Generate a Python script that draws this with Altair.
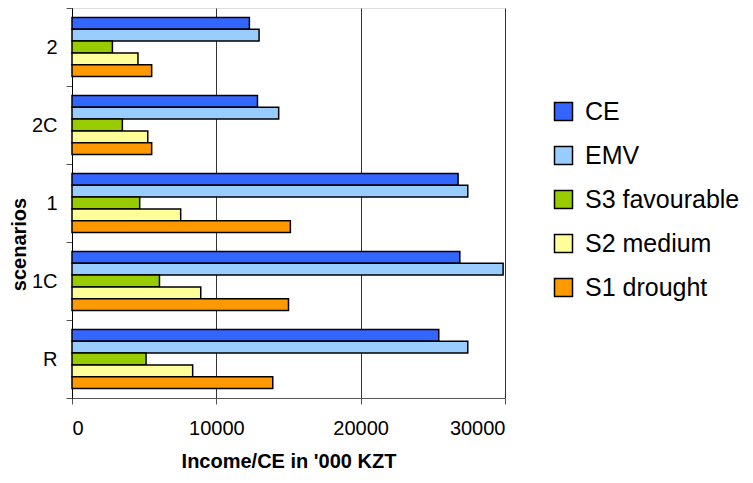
import altair as alt
import pandas as pd

scenarios = ["2", "2C", "1", "1C", "R"]
series = ["CE", "EMV", "S3 favourable", "S2 medium", "S1 drought"]
colors = ["#3366FF", "#99CCFF", "#99CC00", "#FFFF99", "#FF9900"]

ce = [12290, 12850, 26750, 26870, 25410]
emv = [12960, 14320, 27420, 29870, 27420]
s3_favourable = [2800, 3490, 4690, 6060, 5130]
s2_medium = [4570, 5250, 7530, 8920, 8360]
s1_drought = [5520, 5520, 15130, 15000, 13910]

x_ticks = [0, 10000, 20000, 30000]

rows = []
for name, vals in zip(series, [ce, emv, s3_favourable, s2_medium, s1_drought]):
    for sc, v in zip(scenarios, vals):
        rows.append({"scenario": sc, "series": name, "value": v})
df = pd.DataFrame(rows)

FONT = "Liberation Sans"

chart = alt.Chart(df).mark_bar(stroke="black", strokeWidth=1.5).encode(
    y=alt.Y("scenario:N", sort=scenarios,
            scale=alt.Scale(paddingInner=0, paddingOuter=0),
            axis=alt.Axis(title="scenarios", tickBand="extent", tickSize=6,
                          labelPadding=9, labelFontSize=20, labelColor="black",
                          labelFont=FONT, titleFont=FONT, titleFontSize=20,
                          titleFontWeight="bold", titleColor="black",
                          titleX=-47, titleY=236, titleBaseline="alphabetic",
                          titleAngle=270,
                          domainColor="black", tickColor="#555", grid=False)),
    yOffset=alt.YOffset("series:N", sort=series,
                        scale=alt.Scale(paddingInner=0, paddingOuter=0.8)),
    x=alt.X("value:Q",
            scale=alt.Scale(domain=[0, 30000], nice=False),
            axis=alt.Axis(title="Income/CE in '000 KZT", values=x_ticks,
                          format="d", tickSize=6, labelPadding=14,
                          labelFontSize=20, labelColor="black", labelFont=FONT,
                          titleFont=FONT, titleFontSize=20, titleFontWeight="bold",
                          titleColor="black", titlePadding=13,
                          domainColor="#555", tickColor="#555",
                          grid=True, gridColor="#333", gridWidth=1)),
    color=alt.Color("series:N", sort=series,
                    scale=alt.Scale(domain=series, range=colors),
                    legend=alt.Legend(title=None, orient="none", legendX=479,
                                      legendY=91, symbolType="square",
                                      symbolSize=324, symbolStrokeColor="black",
                                      symbolStrokeWidth=1.5, symbolOpacity=1,
                                      labelFontSize=25, labelFont=FONT,
                                      labelColor="black", labelOffset=9,
                                      labelLimit=400,
                                      rowPadding=18, padding=0)),
).properties(
    width=433, height=390,
    autosize=alt.AutoSizeParams(type="none"),
    padding={"left": 64, "top": 0, "right": 238, "bottom": 76},
).configure_view(
    stroke="#808080", strokeWidth=1.5
).configure(background="white")

chart.save("out.html", embed_options={"renderer": "svg", "actions": False})
